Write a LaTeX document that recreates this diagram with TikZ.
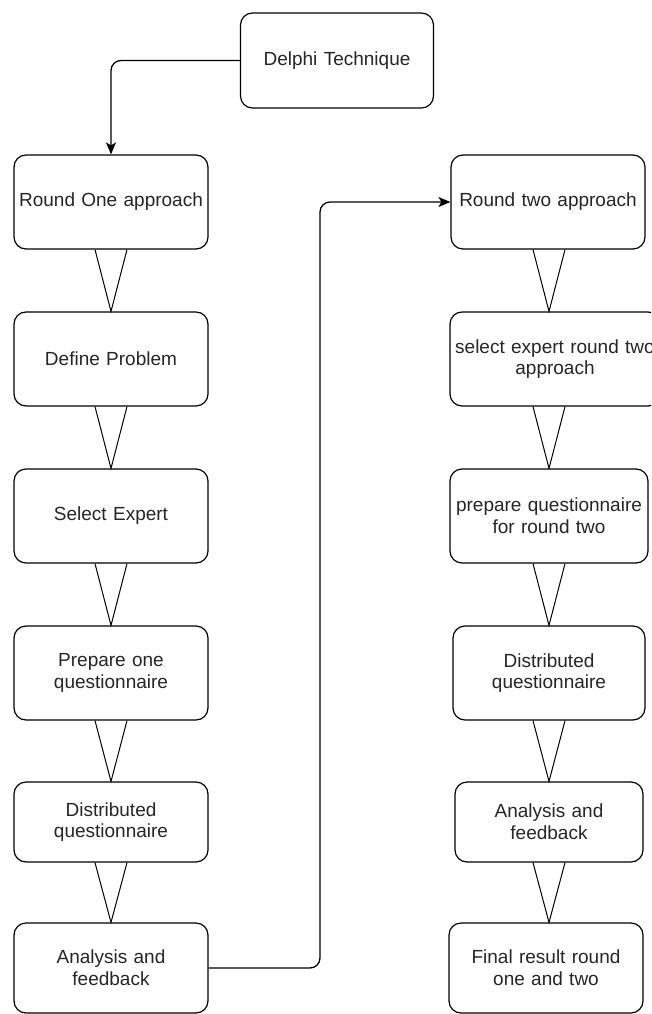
\documentclass[tikz,border=0pt]{standalone}
\usepackage{fontspec}
\setmainfont{Liberation Sans}
\usetikzlibrary{calc,arrows.meta}
\begin{document}
\begin{tikzpicture}[x=1pt,y=-1pt,
  box/.style={draw=black,line width=1.2pt,rounded corners=12pt,align=center,
    text width=#1-8pt,minimum width=#1,inner sep=0pt,font=\fontsize{19}{21.7}\selectfont,text=black!85},
  box/.default=194pt,
  conn/.style={draw=black,line width=1.3pt,rounded corners=10pt,-{Stealth[length=12pt,width=10pt,inset=3pt]}},
  tri/.style={draw=black,line width=1pt,line join=miter}]
\useasboundingbox (0,0) rectangle (651,1014);
\clip (0,0) rectangle (651,1014);
\fill[white] (0,0) rectangle (651,1014);
% column axes
\coordinate (L) at (111,0);
\coordinate (R) at (549,0);
\coordinate (turn) at (320,0);
% top
\node[box=193pt,minimum height=95pt] (delphi) at (337,60.5) {Delphi Technique};
% left column
\node[box,minimum height=94pt] (l1) at (111,202) {Round One approach};
\node[box,minimum height=94pt] (l2) at (111,359) {Define Problem};
\node[box,minimum height=94pt] (l3) at (111,516) {Select Expert};
\node[box,minimum height=94pt] (l4) at (111,673) {Prepare one\\questionnaire};
\node[box,minimum height=80pt] (l5) at (111,822) {Distributed\\questionnaire};
\node[box,minimum height=90pt] (l6) at (111,968) {Analysis and\\feedback};
% right column
\node[box=194pt,minimum height=94pt] (r1) at (548,202) {Round two approach};
\node[box=204pt,minimum height=94pt,text width=210pt] (r2) at (555,359) {select expert round two\\approach};
\node[box=198pt,minimum height=94pt] (r3) at (549,516) {prepare questionnaire\\for round two};
\node[box=192pt,minimum height=94pt] (r4) at (549,673) {Distributed\\questionnaire};
\node[box=188pt,minimum height=80pt] (r5) at (549,822) {Analysis and\\feedback};
\node[box=194pt,minimum height=90pt] (r6) at (546,968) {Final result round\\one and two};
% triangles left
\foreach \a/\b in {l1/l2,l2/l3,l3/l4,l4/l5,l5/l6}{
  \draw[tri] ($(\a.south -| L)+(-16,0)$) -- (\b.north -| L) -- ($(\a.south -| L)+(16,0)$);
}
\foreach \a/\b in {r1/r2,r2/r3,r3/r4,r4/r5,r5/r6}{
  \draw[tri] ($(\a.south -| R)+(-16,0)$) -- (\b.north -| R) -- ($(\a.south -| R)+(16,0)$);
}
% connectors
\draw[conn] (delphi.west) -| (l1.north);
\draw[conn] (l6.east) -- (l6.east -| turn) |- (r1.west);
\end{tikzpicture}
\end{document}
